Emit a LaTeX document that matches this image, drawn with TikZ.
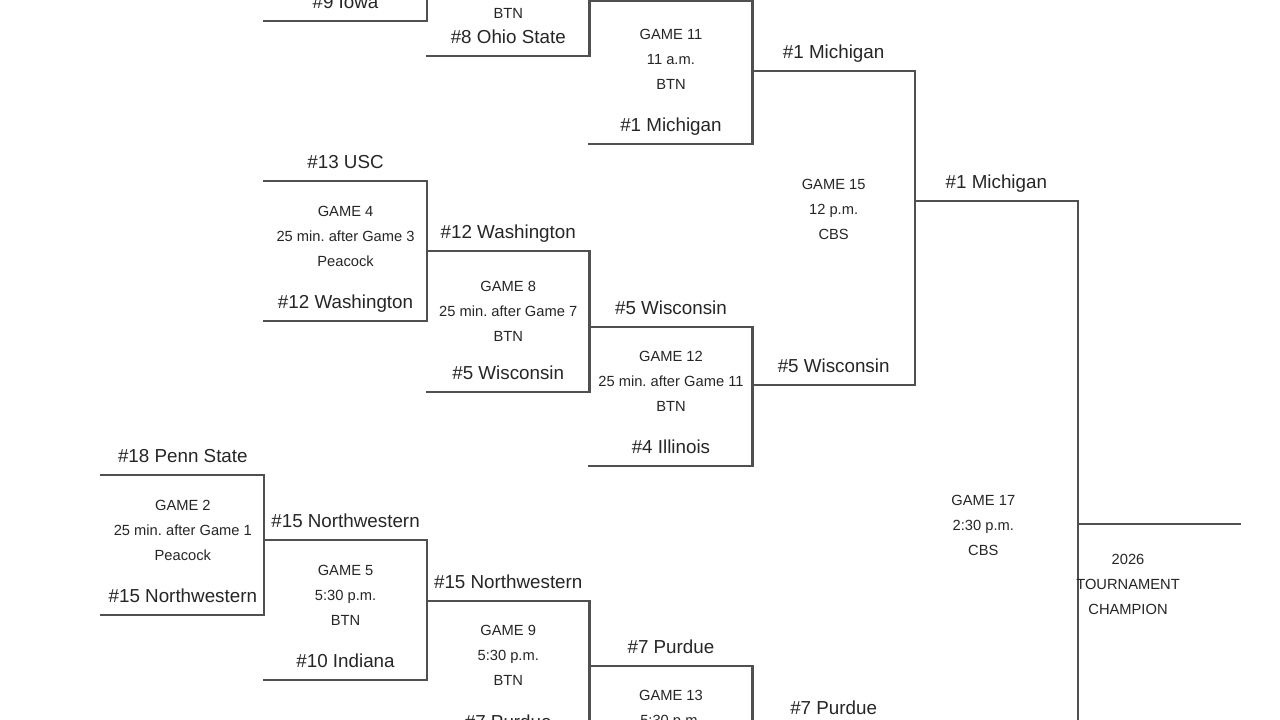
\documentclass[tikz,border=0pt]{standalone}
\usepackage{fontspec}
\setmainfont{Liberation Sans}
\frenchspacing
\usetikzlibrary{positioning,calc}
\definecolor{lineclr}{RGB}{80,80,80}
\definecolor{txtclr}{RGB}{38,38,38}
\tikzset{
  game/.style={rectangle,inner sep=0pt,outer sep=0pt,minimum width=162.7pt,minimum height=#1},
  game/.default=140pt,
  bline/.style={line width=2.4pt,color=lineclr,line cap=rect},
  team/.style={anchor=base,inner sep=0pt,text=txtclr,font=\fontsize{18.8}{22}\selectfont},
  info/.style={align=center,inner sep=0pt,text=txtclr,font=\fontsize{14.7}{25}\selectfont}
}
\begin{document}
\begin{tikzpicture}[x=1pt,y=1pt]
    \path[use as bounding box] (0,0) rectangle (1280,-720);
    \clip (0,0) rectangle (1280,-720);
    \fill[white] (0,0) rectangle (1280,-720);

    \node[game] (g2) at (182.85,-545) {};
    \node[game=142pt] (g3) at (345.55,50) {};
    \node[game] (g4) at (345.55,-251) {};
    \node[game] (g5) at (345.55,-610) {};
    \node[game] (g7) at (508.25,14) {};
    \node[game=141pt] (g8) at (508.25,-321.5) {};
    \node[game] (g9) at (508.25,-671) {};
    \node[game=143pt] (g11) at (670.95,-72.5) {};
    \node[game=139pt] (g12) at (670.95,-396.5) {};
    \node[game] (g13) at (670.95,-736) {};
    \node[game=314pt] (g15) at (833.65,-228) {};
    \node[game=314pt] (g16) at (833.65,-884) {};
    \node[game=646pt] (g17) at (996.35,-524) {};
    \coordinate (champ) at (1240,-524);

    \foreach \g in {g2,g3,g4,g5,g7,g8,g9,g11,g12,g13,g15,g16,g17}
      \draw[bline] (\g.north west) -| (\g.south east) -- (\g.south west);
    \draw[bline] (g17.east) -- (champ);

    \node[info] (g2info) at ([yshift=15pt]g2.center) {GAME 2\\25 min. after Game 1\\Peacock};
    \node[info] (g4info) at ([yshift=15pt]g4.center) {GAME 4\\25 min. after Game 3\\Peacock};
    \node[info] (g5info) at ([yshift=14.3pt]g5.center) {GAME 5\\5:30 p.m.\\BTN};
    \node[info] (g7info) at ([yshift=-27pt]g7.center) {BTN};
    \node[info] (g8info) at ([yshift=10.5pt]g8.center) {GAME 8\\25 min. after Game 7\\BTN};
    \node[info] (g9info) at ([yshift=16pt]g9.center) {GAME 9\\5:30 p.m.\\BTN};
    \node[info] (g11info) at ([yshift=13.5pt]g11.center) {GAME 11\\11 a.m.\\BTN};
    \node[info] (g12info) at ([yshift=15.5pt]g12.center) {GAME 12\\25 min. after Game 11\\BTN};
    \node[info] (g13info) at ([yshift=26.5pt]g13.center) {GAME 13\\5:30 p.m.};
    \node[info] (g15info) at ([yshift=19pt]g15.center) {GAME 15\\12 p.m.\\CBS};
    \node[info] (g17info) at ([xshift=-13pt,yshift=-1pt]g17.center) {GAME 17\\2:30 p.m.\\CBS};
    \node[info] (champinfo) at (1128,-584) {2026\\TOURNAMENT\\CHAMPION};

    \node[team] (g2top) at ([yshift=12.5pt]g2.north) {\#18 Penn State};
    \node[team] (g2bot) at ([yshift=12.5pt]g2.south) {\#15 Northwestern};
    \node[team] (g3bot) at ([yshift=12.5pt]g3.south) {\#9 Iowa};
    \node[team] (g4top) at ([yshift=12.5pt]g4.north) {\#13 USC};
    \node[team] (g4bot) at ([yshift=12.5pt]g4.south) {\#12 Washington};
    \node[team] (g5top) at ([yshift=12.5pt]g5.north) {\#15 Northwestern};
    \node[team] (g5bot) at ([yshift=12.5pt]g5.south) {\#10 Indiana};
    \node[team] (g7bot) at ([yshift=12.5pt]g7.south) {\#8 Ohio State};
    \node[team] (g8top) at ([yshift=12.5pt]g8.north) {\#12 Washington};
    \node[team] (g8bot) at ([yshift=12.5pt]g8.south) {\#5 Wisconsin};
    \node[team] (g9top) at ([yshift=12.5pt]g9.north) {\#15 Northwestern};
    \node[team] (g9bot) at ([yshift=12.5pt]g9.south) {\#7 Purdue};
    \node[team] (g11bot) at ([yshift=12.5pt]g11.south) {\#1 Michigan};
    \node[team] (g12top) at ([yshift=12.5pt]g12.north) {\#5 Wisconsin};
    \node[team] (g12bot) at ([yshift=12.5pt]g12.south) {\#4 Illinois};
    \node[team] (g13top) at ([yshift=12.5pt]g13.north) {\#7 Purdue};
    \node[team] (g15top) at ([yshift=12.5pt]g15.north) {\#1 Michigan};
    \node[team] (g15bot) at ([yshift=12.5pt]g15.south) {\#5 Wisconsin};
    \node[team] (g16top) at ([yshift=12.5pt]g16.north) {\#7 Purdue};
    \node[team] (g17top) at ([yshift=12.5pt]g17.north) {\#1 Michigan};
  \end{tikzpicture}
\end{document}
